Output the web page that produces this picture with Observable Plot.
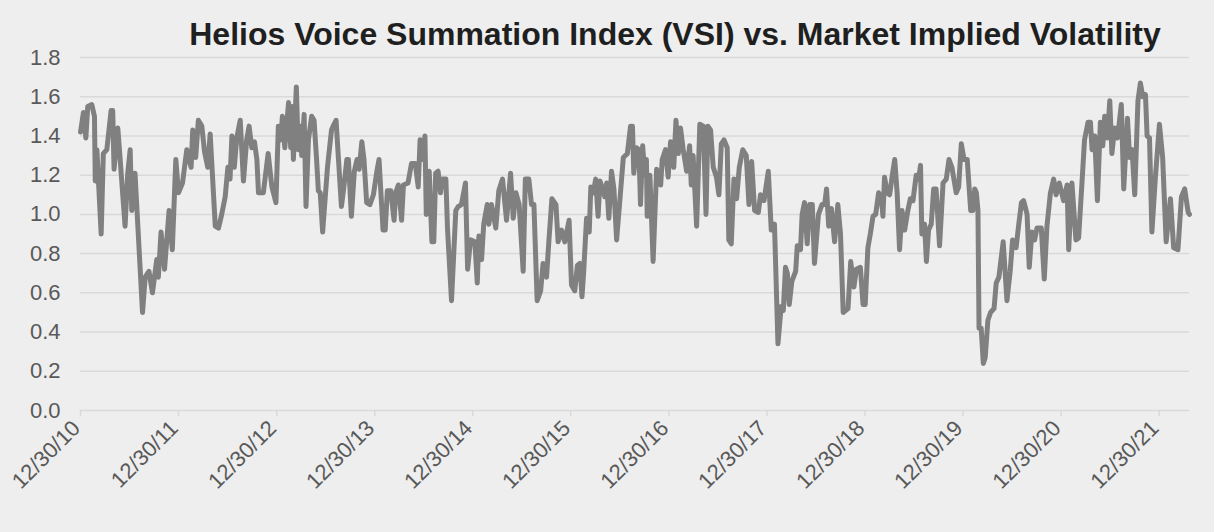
<!DOCTYPE html>
<html>
<head>
<meta charset="utf-8">
<script src="https://cdn.jsdelivr.net/npm/d3@7"></script>
<script src="https://cdn.jsdelivr.net/npm/@observablehq/plot@0.6"></script>
<style>
  html, body { margin: 0; padding: 0; background: #eeeeee; }
  #wrap { position: relative; width: 1214px; height: 532px; background: #eeeeee; overflow: hidden; }
  #title {
    position: absolute; left: 0; top: 16px; width: 1214px; padding-left: 136px; box-sizing: border-box;
    text-align: center; font: bold 32px "Liberation Sans", Arial, sans-serif; line-height: 36px;
    color: #1f1f1f; white-space: nowrap; z-index: 2;
  }
  #chart { position: absolute; left: 0; top: 0; }
</style>
</head>
<body>
<div id="wrap">
  <div id="chart"></div>
  <div id="title">Helios Voice Summation Index (VSI) vs. Market Implied Volatility</div>
</div>
<script>
const title = "Helios Voice Summation Index (VSI) vs. Market Implied Volatility";

const dates = [
  "2010-12-30","2011-01-10","2011-01-19","2011-01-26","2011-02-10","2011-02-20","2011-02-23","2011-03-01","2011-03-17","2011-03-25","2011-04-07","2011-04-23","2011-04-29","2011-05-04","2011-05-18","2011-05-30","2011-06-14","2011-06-24","2011-07-03","2011-07-09","2011-07-21","2011-08-18","2011-08-28","2011-09-11","2011-09-24","2011-10-10","2011-10-16","2011-10-26","2011-11-08","2011-11-25","2011-12-07","2011-12-20","2011-12-30",
  "2012-01-14","2012-01-30","2012-02-15","2012-02-21","2012-03-03","2012-03-13","2012-03-26","2012-04-05","2012-04-17","2012-04-26","2012-05-15","2012-05-27","2012-06-08","2012-06-21","2012-07-01","2012-07-09","2012-07-16","2012-07-25","2012-08-03","2012-08-16","2012-08-28","2012-09-09","2012-09-18","2012-09-28","2012-10-08","2012-10-17","2012-10-23","2012-11-10","2012-11-28","2012-12-12","2012-12-27",
  "2013-01-05","2013-01-14","2013-01-20","2013-01-29","2013-02-12","2013-02-20","2013-02-26","2013-03-02","2013-03-13","2013-03-20","2013-03-29","2013-04-02","2013-04-11","2013-04-18","2013-04-27","2013-05-09","2013-05-18","2013-05-27","2013-06-03","2013-06-10","2013-06-19","2013-07-07","2013-07-22","2013-07-28","2013-08-08","2013-08-17","2013-08-28","2013-09-06","2013-09-17","2013-09-23","2013-10-04","2013-10-15","2013-10-25","2013-11-02","2013-11-12","2013-11-20","2013-11-30","2013-12-12","2013-12-25",
  "2014-01-07","2014-01-15","2014-01-30","2014-02-07","2014-02-15","2014-02-28","2014-03-12","2014-03-18","2014-03-28","2014-04-09","2014-04-16","2014-05-03","2014-05-16","2014-05-30","2014-06-10","2014-06-17","2014-06-26","2014-07-05","2014-07-10","2014-07-21","2014-07-31","2014-08-07","2014-08-14","2014-08-23","2014-09-01","2014-09-08","2014-09-21","2014-09-27","2014-10-12","2014-10-28","2014-11-06","2014-11-18","2014-12-03","2014-12-11","2014-12-22",
  "2015-01-07","2015-01-16","2015-01-22","2015-02-01","2015-02-09","2015-02-22","2015-02-28","2015-03-10","2015-03-26","2015-04-06","2015-04-20","2015-05-05","2015-05-20","2015-05-30","2015-06-09","2015-06-21","2015-07-06","2015-07-14","2015-07-27","2015-08-06","2015-08-15","2015-08-27","2015-09-09","2015-09-18","2015-10-01","2015-10-10","2015-10-21","2015-11-05","2015-11-13","2015-11-26","2015-12-08","2015-12-24",
  "2016-01-02","2016-01-14","2016-01-24","2016-02-02","2016-02-10","2016-02-16","2016-02-27","2016-03-08","2016-03-14","2016-03-23","2016-04-01","2016-04-10","2016-04-17","2016-04-27","2016-05-05","2016-05-12","2016-05-20","2016-05-30","2016-06-08","2016-06-18","2016-06-30","2016-07-13","2016-07-28","2016-08-09","2016-08-16","2016-08-21","2016-08-31","2016-09-09","2016-09-15","2016-09-23","2016-10-01","2016-10-07","2016-10-10","2016-10-20","2016-11-01","2016-11-14","2016-11-29","2016-12-05","2016-12-17","2016-12-27",
  "2017-01-05","2017-01-17","2017-01-25","2017-02-03","2017-02-11","2017-02-21","2017-03-06","2017-03-17","2017-03-23","2017-03-30","2017-04-12","2017-04-24","2017-05-07","2017-05-17","2017-05-24","2017-06-03","2017-06-13","2017-06-25","2017-07-04","2017-07-13","2017-07-23","2017-08-04","2017-08-10","2017-08-19","2017-08-29","2017-09-08","2017-09-18","2017-10-01","2017-10-14","2017-10-24","2017-11-03","2017-11-14","2017-11-28","2017-12-06","2017-12-19",
  "2018-01-04","2018-01-15","2018-01-27","2018-02-09","2018-02-21","2018-03-01","2018-03-09","2018-03-16","2018-03-23","2018-04-02","2018-04-16","2018-04-22","2018-05-04","2018-05-10","2018-05-19","2018-05-29","2018-06-07","2018-06-17","2018-06-25","2018-07-10","2018-07-23","2018-08-02","2018-08-09","2018-08-17","2018-08-27","2018-09-08","2018-09-20","2018-09-30","2018-10-10","2018-10-28","2018-11-07","2018-11-19","2018-11-28","2018-12-13","2018-12-23","2018-12-31",
  "2019-01-10","2019-01-19","2019-01-29","2019-02-08","2019-02-19","2019-03-01","2019-03-07","2019-03-13","2019-03-23","2019-04-01","2019-04-10","2019-04-20","2019-04-29","2019-05-08","2019-05-17","2019-05-27","2019-06-08","2019-06-17","2019-06-27","2019-07-09","2019-07-18","2019-07-25","2019-07-30","2019-08-09","2019-08-16","2019-08-24","2019-09-03","2019-09-12","2019-09-21","2019-10-04","2019-10-17","2019-10-29","2019-11-08","2019-11-19","2019-12-05","2019-12-14","2019-12-24",
  "2020-01-03","2020-01-15","2020-01-28","2020-02-05","2020-02-12","2020-02-18","2020-02-24","2020-02-28","2020-03-07","2020-03-15","2020-03-22","2020-04-01","2020-04-11","2020-04-24","2020-05-02","2020-05-12","2020-05-28","2020-06-11","2020-06-23","2020-07-02","2020-07-15","2020-07-25","2020-08-04","2020-08-12","2020-08-25","2020-09-02","2020-09-12","2020-09-22","2020-10-01","2020-10-17","2020-10-28","2020-11-07","2020-11-20","2020-12-02","2020-12-11","2020-12-23",
  "2021-01-08","2021-01-21","2021-01-27","2021-02-08","2021-02-23","2021-03-05","2021-03-17","2021-03-27","2021-04-09","2021-04-18","2021-04-24","2021-05-04","2021-05-14","2021-05-25","2021-06-03","2021-06-10","2021-06-20","2021-06-29","2021-07-07","2021-07-17","2021-07-28","2021-08-11","2021-08-20","2021-09-03","2021-09-11","2021-09-20","2021-09-30","2021-10-12","2021-10-21","2021-10-30","2021-11-09","2021-11-15","2021-11-24","2021-12-03","2021-12-16","2021-12-31",
  "2022-01-12","2022-01-25","2022-02-10","2022-02-22","2022-03-10","2022-03-23","2022-04-04","2022-04-17","2022-04-22"
];

const values = [
  1.42,1.52,1.39,1.55,1.56,1.50,1.17,1.33,0.90,1.31,1.33,1.53,1.53,1.23,1.44,1.22,0.94,1.21,1.33,1.02,1.21,0.50,0.68,0.71,0.60,0.77,0.68,0.91,0.72,1.02,0.82,1.28,1.11,
  1.16,1.33,1.24,1.43,1.29,1.48,1.45,1.32,1.24,1.41,0.94,0.93,1.00,1.09,1.24,1.18,1.40,1.24,1.39,1.48,1.17,1.38,1.45,1.34,1.37,1.28,1.11,1.11,1.31,1.14,1.06,
  1.45,1.38,1.50,1.34,1.57,1.34,1.55,1.28,1.65,1.33,1.45,1.30,1.51,1.04,1.38,1.50,1.48,1.29,1.12,1.11,0.91,1.24,1.43,1.45,1.48,1.28,1.04,1.14,1.28,1.28,0.99,1.22,1.28,1.23,1.37,1.28,1.06,1.05,1.10,
  1.22,1.28,0.92,0.92,1.12,1.12,0.97,1.11,1.15,0.97,1.15,1.16,1.26,1.26,1.14,1.38,1.28,1.40,1.00,1.22,0.86,0.86,1.21,1.22,1.11,1.18,1.18,0.93,0.56,1.02,1.04,1.05,1.16,0.72,0.87,
  0.86,0.65,0.89,0.77,0.95,1.05,0.95,1.05,0.93,1.12,1.18,0.97,1.21,0.98,1.11,1.05,0.71,1.18,1.18,1.05,1.05,0.56,0.61,0.75,0.68,0.87,1.08,1.05,0.86,0.92,0.86,0.97,
  0.64,0.61,0.74,0.75,0.58,0.70,0.98,0.91,1.14,1.11,1.18,0.99,1.17,1.13,1.09,1.16,0.98,1.22,1.13,0.87,1.07,1.29,1.31,1.45,1.45,1.21,1.34,1.33,1.05,1.35,1.20,1.28,0.99,1.20,0.76,1.23,1.15,1.28,1.33,1.19,
  1.37,1.24,1.48,1.31,1.44,1.33,1.22,1.35,1.15,1.30,0.94,1.46,1.45,1.00,1.45,1.43,1.24,1.19,1.10,1.36,1.38,1.34,0.87,0.85,1.18,1.08,1.24,1.33,1.30,1.05,1.27,1.02,1.01,1.10,1.07,
  1.22,0.92,0.95,0.34,0.53,0.51,0.73,0.70,0.54,0.66,0.71,0.84,0.82,1.00,1.06,0.85,1.05,1.05,0.75,1.00,1.05,1.05,1.13,0.94,1.03,0.86,1.05,0.90,0.50,0.52,0.76,0.63,0.72,0.73,0.54,0.54,
  0.83,0.90,0.99,1.00,1.11,1.09,0.99,1.19,1.11,1.10,1.19,1.28,1.11,0.82,1.02,0.92,1.02,1.08,1.07,1.20,1.18,1.25,0.90,0.95,0.76,0.92,0.95,1.13,1.13,0.84,1.16,1.18,1.28,1.24,1.11,1.14,1.36,
  1.28,1.28,1.02,1.02,1.13,1.11,1.02,0.42,0.42,0.24,0.27,0.46,0.50,0.52,0.65,0.68,0.86,0.56,0.71,0.87,0.83,0.95,1.06,1.07,1.00,0.73,0.91,0.87,0.93,0.93,0.67,0.94,1.11,1.18,1.10,1.16,
  1.07,1.15,0.82,1.16,0.87,0.88,1.15,1.38,1.47,1.47,1.33,1.40,1.07,1.47,1.35,1.50,1.39,1.58,1.31,1.44,1.39,1.56,1.13,1.49,1.29,1.33,1.10,1.58,1.67,1.60,1.61,1.40,1.39,0.91,1.19,1.46,
  1.29,0.86,1.08,0.83,0.82,1.09,1.13,1.01,1.00
];

const yTicks = [0, 0.2, 0.4, 0.6, 0.8, 1.0, 1.2, 1.4, 1.6, 1.8];
const xTicks = ["2010-12-30","2011-12-30","2012-12-30","2013-12-30","2014-12-30","2015-12-30","2016-12-30","2017-12-30","2018-12-30","2019-12-30","2020-12-30","2021-12-30"];
const xDomain = ["2010-12-30", "2022-04-22"];

if (dates.length !== values.length) console.error("length mismatch", dates.length, values.length);
const n = Math.min(dates.length, values.length);
const series = d3.range(n).map(i => ({date: new Date(dates[i]), value: values[i]}));
const xTickDates = xTicks.map(d => new Date(d));

const chart = Plot.plot({
  width: 1214,
  height: 532,
  marginTop: 57,
  marginBottom: 122,
  marginLeft: 80,
  marginRight: 25,
  style: {background: "transparent", fontFamily: "'Liberation Sans', Arial, sans-serif", fontSize: "22px", color: "#595959", overflow: "visible"},
  x: {type: "utc", domain: xDomain.map(d => new Date(d))},
  y: {domain: [0, 1.8]},
  marks: [
    Plot.gridY(yTicks, {stroke: "#d9d9d9", strokeOpacity: 1, strokeWidth: 1.5}),
    Plot.axisY(yTicks, {tickSize: 0, tickPadding: 20, tickFormat: d3.format(".1f"), fontSize: 22, fill: "#595959", label: null}),
    // tick marks only
    Plot.axisX(xTickDates, {tickSize: 6, stroke: "#d9d9d9", strokeWidth: 1.5, tickFormat: () => "", label: null}),
    // rotated tick labels
    Plot.axisX(xTickDates, {
      tickSize: 0, tickPadding: 10, tickRotate: -45,
      tickFormat: d3.utcFormat("%m/%d/%y"), fontSize: 22, fill: "#595959", label: null,
      dx: -4, dy: 4
    }),
    Plot.line(series, {x: "date", y: "value", stroke: "#808080", strokeWidth: 5, strokeLinejoin: "round", strokeLinecap: "round"})
  ]
});
document.getElementById("chart").appendChild(chart);
</script>
</body>
</html>
